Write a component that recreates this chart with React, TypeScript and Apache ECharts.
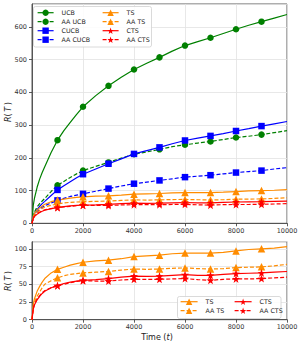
import { useEffect, useRef } from "react";
import * as echarts from "echarts";

const T = [0, 50, 100, 200, 300, 400, 500, 750, 1000, 1250, 1500, 1750, 2000, 2500, 3000, 3500, 4000, 4500, 5000, 5500, 6000, 6500, 7000, 7500, 8000, 8500, 9000, 9500, 10000];
const MARKER_T = [1000, 2000, 3000, 4000, 5000, 6000, 7000, 8000, 9000];

const UCB = [0, 55, 78, 110, 135, 155, 173, 216, 254, 283, 308, 333, 356, 390, 420, 446, 470, 489, 507, 526, 543, 555, 567, 580, 593, 605, 616, 627, 638];
const AA_UCB = [0, 25, 35, 50, 60, 68, 76, 97, 116, 128, 140, 151, 161, 174, 186, 199, 211, 218, 226, 234, 240, 245, 250, 256, 262, 266, 271, 277, 283];
const CUCB = [0, 22, 30, 42, 52, 60, 67, 85, 102, 115, 127, 139, 150, 166, 182, 197, 212, 222, 232, 243, 253, 260, 267, 274, 282, 289, 297, 304, 311];
const AA_CUCB = [0, 20, 27, 36, 43, 49, 54, 62, 70, 76, 82, 86, 90, 98, 106, 114, 121, 126, 131, 136, 141, 144, 147, 151, 155, 158, 161, 166, 170];
const TS = [0, 22, 30, 40, 47, 53, 58, 66, 71, 74, 77, 79, 81, 83, 84, 86, 89, 90, 91, 93, 94, 94, 94, 95, 97, 99, 100, 101, 103];
const AA_TS = [0, 18, 25, 33, 39, 45, 50, 55, 59, 62, 64, 65, 66, 67, 68, 70, 71.5, 71, 71.5, 72.5, 73, 72, 71.5, 72, 73.5, 74, 74.5, 76, 78];
const CTS = [0, 15, 21, 28, 33, 37, 40, 45, 48, 51, 53, 54.5, 55.5, 56.5, 58, 60, 61.5, 61, 61.5, 62.5, 63.5, 62.5, 62.5, 64, 65, 65.5, 66, 67, 68];
const AA_CTS = [0, 16, 22, 29, 34, 38, 41, 45, 48, 50, 52, 54, 55, 54.5, 54.5, 56, 57, 57, 57, 57.5, 58, 56.5, 55.5, 57, 57.5, 57.5, 58, 59, 60];

const TOP_LEGEND_COL1 = ["UCB", "AA UCB", "CUCB", "AA CUCB"];
const TOP_LEGEND_COL2 = ["TS", "AA TS", "CTS", "AA CTS"];
const BOT_LEGEND_COL1 = ["TS", "AA TS"];
const BOT_LEGEND_COL2 = ["CTS", "AA CTS"];

const GREEN = "#008000";
const BLUE = "#0000ff";
const ORANGE = "#ff8c00";
const RED = "#ff0000";
const STAR = "path://M0,-10 L2.35,-3.24 L9.51,-3.09 L3.8,1.24 L5.88,8.09 L0,4 L-5.88,8.09 L-3.8,1.24 L-9.51,-3.09 L-2.35,-3.24Z";
const FONT = "DejaVu Sans";

function mkSeries(name: string, values: number[], color: string, symbol: string, size: number, dashed: boolean, idx: number, z: number) {
  return {
    type: "line",
    name,
    xAxisIndex: idx,
    yAxisIndex: idx,
    z,
    data: T.map((t, i) => ({ value: [t, values[i]], symbolSize: MARKER_T.includes(t) ? size : 0 })),
    symbol,
    showSymbol: true,
    showAllSymbol: true,
    silent: true,
    lineStyle: { color, width: 1.2, type: dashed ? [4, 2] : "solid" },
    itemStyle: { color, borderColor: color, borderWidth: 0 },
    emphasis: { disabled: true },
  };
}

function axisCommon() {
  return {
    axisLine: { show: true, lineStyle: { color: "#333", width: 0.8 } },
    axisTick: { show: true, inside: false, length: 3, lineStyle: { color: "#333", width: 0.8 } },
    splitLine: { show: true, lineStyle: { color: "#e2e2e2", width: 0.8 } },
  };
}

export default function App() {
  const ref = useRef<HTMLDivElement>(null);
  useEffect(() => {
    const chart = echarts.init(ref.current!, null, { renderer: "svg" });
    const fmt = (v: number) => String(v);
    const xAxisBase = (gi: number) => ({
      type: "value",
      gridIndex: gi,
      min: 0,
      max: 10000,
      interval: 2000,
      ...axisCommon(),
      axisLabel: { fontSize: 6.5, color: "#333", fontFamily: FONT, margin: 4, showMinLabel: true, showMaxLabel: true, formatter: fmt },
    });
    const yAxisBase = (gi: number, max: number, interval: number) => ({
      type: "value",
      gridIndex: gi,
      min: 0,
      max,
      interval,
      ...axisCommon(),
      axisLabel: { fontSize: 6.5, color: "#333", fontFamily: FONT, margin: 5, showMaxLabel: false, formatter: fmt },
    });
    const legendBase = {
      orient: "vertical",
      padding: 0,
      itemGap: 0,
      itemWidth: 16,
      itemHeight: 8,
      z: 10,
      selectedMode: false,
      textStyle: { fontSize: 6.3, fontFamily: FONT, color: "#222", lineHeight: 9, padding: [0, 0, 0, 3] },
      lineStyle: { width: 1.2 },
    };
    const option: any = {
      animation: false,
      backgroundColor: "#fff",
      grid: [
        { left: 32, right: 15, top: 4, height: 219.3, show: true, borderColor: "#333", borderWidth: 0.8, backgroundColor: "transparent" },
        { left: 32, right: 15, top: 241.7, height: 78, show: true, borderColor: "#333", borderWidth: 0.8, backgroundColor: "transparent" },
      ],
      xAxis: [xAxisBase(0), xAxisBase(1)],
      yAxis: [yAxisBase(0, 670, 100), yAxisBase(1, 110, 25)],
      legend: [
        { ...legendBase, left: 37, top: 8.2, data: TOP_LEGEND_COL1 },
        { ...legendBase, left: 102, top: 8.2, data: TOP_LEGEND_COL2 },
        { ...legendBase, itemWidth: 17, left: 180, top: 297.2, data: BOT_LEGEND_COL1 },
        { ...legendBase, itemWidth: 17, left: 234, top: 297.2, data: BOT_LEGEND_COL2 },
      ],
      graphic: [
        { type: "rect", z: 9, shape: { x: 33.5, y: 6.5, width: 118, height: 40.5, r: 2 }, style: { fill: "rgba(255,255,255,0.85)", stroke: "#d0d0d0", lineWidth: 0.8 } },
        { type: "rect", z: 9, shape: { x: 177.5, y: 296.5, width: 103.5, height: 22, r: 2 }, style: { fill: "rgba(255,255,255,0.85)", stroke: "#d0d0d0", lineWidth: 0.8 } },
        {
          type: "text", x: 8.5, y: 112, rotation: Math.PI / 2, z: 10,
          style: { text: "{i|R}(\u2009{i|T}\u2009)", fontSize: 8, fontFamily: FONT, fill: "#222", align: "center", verticalAlign: "middle", rich: { i: { fontStyle: "italic", fontSize: 8, fontFamily: FONT, fill: "#222" } } },
        },
        {
          type: "text", x: 8, y: 281, rotation: Math.PI / 2, z: 10,
          style: { text: "{i|R}(\u2009{i|T}\u2009)", fontSize: 8, fontFamily: FONT, fill: "#222", align: "center", verticalAlign: "middle", rich: { i: { fontStyle: "italic", fontSize: 8, fontFamily: FONT, fill: "#222" } } },
        },
        {
          type: "text", x: 157, y: 337, z: 10,
          style: { text: "Time ({i|t})", fontSize: 8, fontFamily: FONT, fill: "#222", align: "center", verticalAlign: "middle", rich: { i: { fontStyle: "italic", fontSize: 8, fontFamily: FONT, fill: "#222" } } },
        },
      ],
      series: [
        mkSeries("UCB", UCB, GREEN, "circle", 6.5, false, 0, 2),
        mkSeries("AA UCB", AA_UCB, GREEN, "circle", 6.5, true, 0, 2),
        mkSeries("CUCB", CUCB, BLUE, "rect", 6.5, false, 0, 2),
        mkSeries("AA CUCB", AA_CUCB, BLUE, "rect", 6.5, true, 0, 2),
        mkSeries("TS", TS, ORANGE, "triangle", 7.5, false, 0, 2),
        mkSeries("AA TS", AA_TS, ORANGE, "triangle", 7.5, true, 0, 2),
        mkSeries("CTS", CTS, RED, STAR, 8, false, 0, 2),
        mkSeries("AA CTS", AA_CTS, RED, STAR, 8, true, 0, 2),
        mkSeries("TS", TS, ORANGE, "triangle", 7.5, false, 1, 2),
        mkSeries("AA TS", AA_TS, ORANGE, "triangle", 7.5, true, 1, 2),
        mkSeries("CTS", CTS, RED, STAR, 8, false, 1, 2),
        mkSeries("AA CTS", AA_CTS, RED, STAR, 8, true, 1, 2),
      ],
    };
    chart.setOption(option);
    return () => chart.dispose();
  }, []);
  return <div ref={ref} style={{ position: "fixed", left: 0, top: 0, width: 302, height: 346, background: "#fff" }} />;
}
